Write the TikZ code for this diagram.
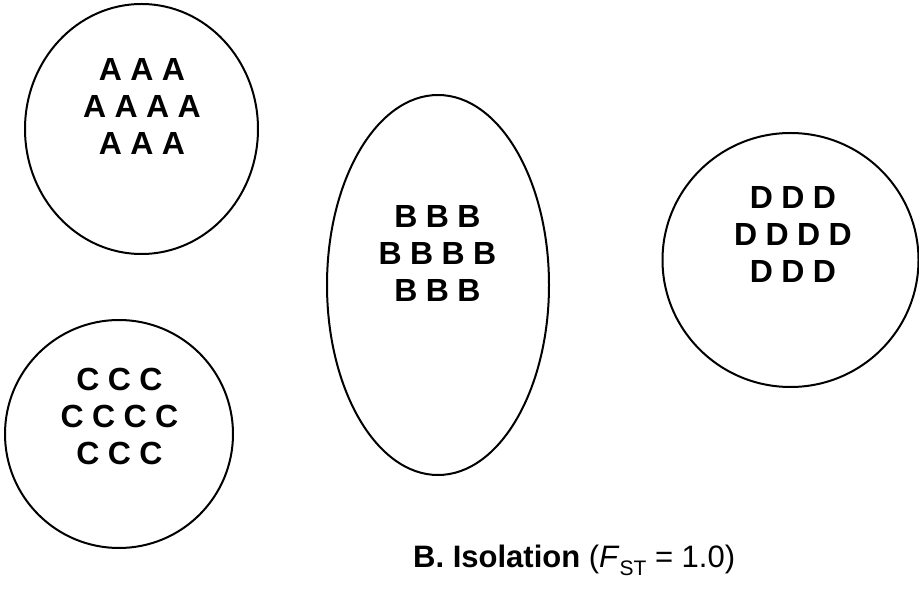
\documentclass[tikz,border=0pt]{standalone}
\usepackage{fontspec}
\setmainfont{Liberation Sans}
\begin{document}
\begin{tikzpicture}[x=1pt,y=-1pt,
  deme/.style={draw=black,line width=2pt},
  allele/.style={inner sep=0pt,font=\fontsize{32}{32}\selectfont\bfseries},
  caption/.style={inner sep=0pt,anchor=base west,font=\fontsize{31}{36}\selectfont}]
\useasboundingbox (0,0) rectangle (919,593);

% four isolated populations
\draw[deme] (141.5,129) ellipse [x radius=116.5, y radius=125];
\draw[deme] (438,285) ellipse [x radius=111, y radius=190];
\draw[deme] (119,434) ellipse [x radius=114, y radius=114];
\draw[deme] (790.5,260) ellipse [x radius=128, y radius=127];

% allele clusters: rows of 3, 4, 3 letters
\foreach \L/\cx/\cy in {A/142/69, B/437.5/216, C/119.5/379, D/793/197}{
  \foreach \i in {-1,0,1}
    \node[allele] (\L-1\i) at (\cx+\i*31.5,\cy) {\L};
  \foreach \i in {-1.5,-0.5,0.5,1.5}
    \node[allele] (\L-2\i) at (\cx+\i*31.5,\cy+37) {\L};
  \foreach \i in {-1,0,1}
    \node[allele] (\L-3\i) at (\cx+\i*31.5,\cy+74) {\L};
}

\node[caption] (title) at (413,567)
  {\textbf{B. Isolation} (\textit{F}\raisebox{-0.28em}{\fontsize{21}{21}\selectfont ST} = 1.0)};
\end{tikzpicture}
\end{document}
